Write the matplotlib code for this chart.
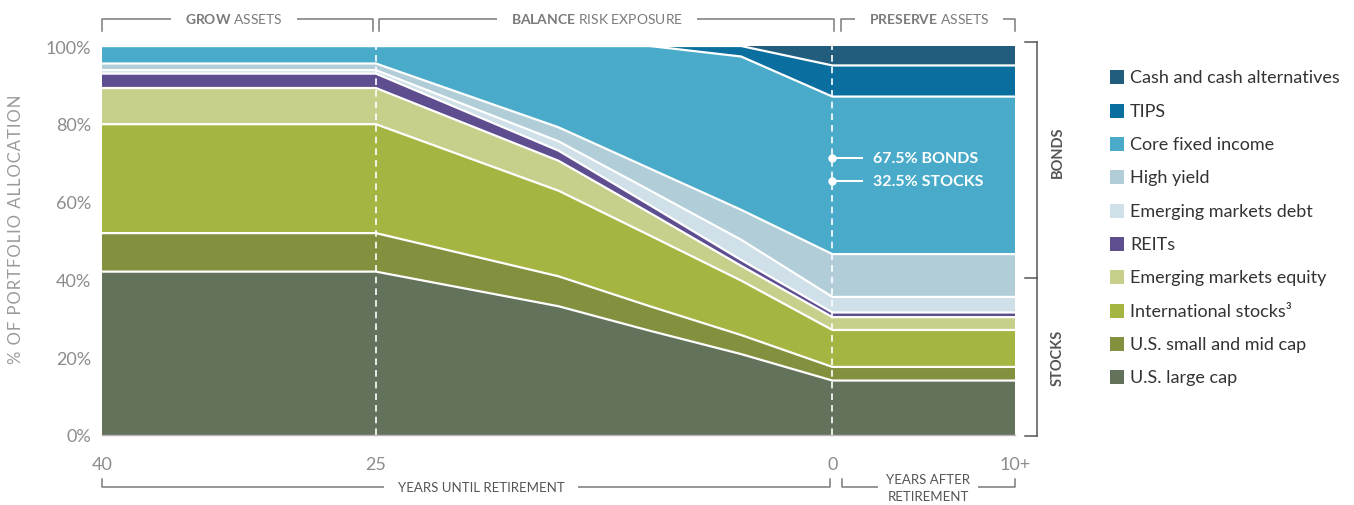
import matplotlib
matplotlib.use('Agg')
import matplotlib.pyplot as plt
from matplotlib.lines import Line2D
from matplotlib.patches import Rectangle
import numpy as np

# ---------------- data ----------------
years = [40, 25, 15, 10, 5, 0, -10]
us_large_cap = [42.0, 42.0, 33.1, 26.8, 20.8, 14.0, 14.0]
us_small_mid = [9.9, 9.9, 7.7, 6.3, 4.9, 3.5, 3.5]
intl_stocks = [28.0, 28.0, 22.0, 18.2, 14.0, 9.5, 9.5]
em_equity = [9.3, 9.3, 7.7, 5.8, 3.8, 3.3, 3.3]
reits = [3.7, 3.7, 2.6, 2.0, 1.5, 1.2, 1.2]
em_debt = [0.9, 0.9, 2.4, 3.8, 5.2, 4.0, 4.0]
high_yield = [1.7, 1.7, 3.6, 5.6, 7.7, 11.0, 11.0]
core_fixed = [4.5, 4.5, 20.9, 31.5, 39.4, 40.5, 40.5]
tips = [0.0, 0.0, 0.0, 0.0, 2.7, 8.0, 8.0]
cash = [0.0, 0.0, 0.0, 0.0, 0.0, 5.0, 5.0]

layers = [us_large_cap, us_small_mid, intl_stocks, em_equity, reits,
          em_debt, high_yield, core_fixed, tips, cash]
names = ["U.S. large cap", "U.S. small and mid cap", "International stocks\u00b3",
         "Emerging markets equity", "REITs", "Emerging markets debt",
         "High yield", "Core fixed income", "TIPS", "Cash and cash alternatives"]
colors = ["#63725a", "#83903e", "#a6b541", "#c8cf8a", "#5e4d8f",
          "#cfe0e8", "#b0cdd8", "#49abc9", "#0a6e9e", "#225d7d"]

xtick_pos = [40, 25, 0, -10]
xtick_labels = ["40", "25", "0", "10+"]
ytick_pos = [0, 20, 40, 60, 80, 100]
ytick_labels = ["0%", "20%", "40%", "60%", "80%", "100%"]

bonds_label = "67.5% BONDS"
stocks_label = "32.5% STOCKS"
ylabel_text = "% OF PORTFOLIO ALLOCATION"

# ---------------- style ----------------
FONT = "Lato"
plt.rcParams['font.family'] = [FONT, 'DejaVu Sans']
plt.rcParams['mathtext.fontset'] = 'custom'
plt.rcParams['mathtext.rm'] = FONT
plt.rcParams['mathtext.bf'] = FONT + ':bold'

W, H = 1354, 506
fig = plt.figure(figsize=(W / 100, H / 100), dpi=100)


def fx(px):
    return px / W


def fy(py):
    return 1 - py / H


ax = fig.add_axes([fx(102), fy(436), (1015 - 102) / W, (436 - 47) / H])
ax.stackplot(years, *layers, colors=colors, linewidth=0)
cum = np.cumsum(np.array(layers), axis=0)
for c in cum[:-1]:
    ax.plot(years, c, color='white', lw=1.6, solid_joinstyle='miter', zorder=3)

for xv in (25, 0):
    ax.axvline(xv, color='white', lw=1.2, ls=(0, (4, 3)), zorder=4)

ax.set_xlim(40, -10)
ax.set_ylim(0, 100)
for s in ['top', 'right', 'left']:
    ax.spines[s].set_visible(False)
ax.spines['bottom'].set_color('#b5b5b5')
ax.spines['bottom'].set_linewidth(1.0)

ax.set_xticks(xtick_pos)
ax.set_xticklabels(xtick_labels)
ax.set_yticks(ytick_pos)
ax.set_yticklabels(ytick_labels)
ax.tick_params(axis='both', length=0, colors='#8c8c8c', labelsize=13)
ax.tick_params(axis='y', pad=8)
ax.tick_params(axis='x', pad=15)

# annotation
for yv, lab in ((71.2, bonds_label), (65.2, stocks_label)):
    ax.plot([0, -1.6], [yv, yv], color='white', lw=1.5, zorder=5)
    ax.plot([0], [yv], 'o', color='white', ms=5, zorder=5)
    ax.text(-2.25, yv, lab, color='white', fontsize=11.5, fontweight='bold',
            va='center', ha='left', zorder=6)

# y label (letter-spaced)
spaced = "\u200a".join(ylabel_text)
fig.text(fx(16), fy(229), spaced, rotation=90,
         ha='center', va='center', color='#9a9a9a', fontsize=12,
         family=[FONT, 'DejaVu Sans'])

# brackets
BR = '#7a7a7a'


def bracket(x0, x1, y, t, color=BR):
    fig.add_artist(Line2D([fx(x0), fx(x0), fx(x1), fx(x1)],
                          [fy(y + t), fy(y), fy(y), fy(y + t)],
                          color=color, lw=1.1, transform=fig.transFigure,
                          zorder=1))


bracket(102, 373, 20, 12)
bracket(379, 834, 20, 12)
bracket(841, 1015, 20, 12)
box = dict(facecolor='white', edgecolor='none', pad=10)
fig.text(fx(234), fy(19), r"$\mathbf{GROW}$ ASSETS", ha='center', va='center',
         color='#7a7a7a', fontsize=10, bbox=box, zorder=5)
fig.text(fx(597), fy(19), r"$\mathbf{BALANCE}$ RISK EXPOSURE", ha='center',
         va='center', color='#7a7a7a', fontsize=10, bbox=box, zorder=5)
fig.text(fx(929), fy(19), r"$\mathbf{PRESERVE}$ ASSETS", ha='center',
         va='center', color='#7a7a7a', fontsize=10, bbox=box, zorder=5)

bracket(102, 830, 488, -8)
bracket(842, 1015, 488, -8)
fig.text(fx(481), fy(488), "YEARS UNTIL RETIREMENT", ha='center', va='center',
         color='#555555', fontsize=9.5, bbox=box, zorder=5)
fig.text(fx(928), fy(489), "YEARS AFTER\nRETIREMENT", ha='center', va='center',
         color='#555555', fontsize=9.5, linespacing=1.5,
         bbox=dict(facecolor='white', edgecolor='none', pad=6), zorder=5)

# right bracket (bonds / stocks)
RB = '#555555'
fig.add_artist(Line2D([fx(1037), fx(1037)], [fy(43), fy(437)], color=RB,
                      lw=1.1, transform=fig.transFigure))
for yy in (43, 279, 437):
    fig.add_artist(Line2D([fx(1025), fx(1037)], [fy(yy), fy(yy)], color=RB,
                          lw=1.1, transform=fig.transFigure))
fig.text(fx(1058), fy(152), "BONDS", rotation=90, ha='center', va='center',
         color='#555555', fontsize=10.5, fontweight='bold')
fig.text(fx(1058), fy(358), "STOCKS", rotation=90, ha='center', va='center',
         color='#555555', fontsize=10.5, fontweight='bold')

# legend (top to bottom: reversed stack order)
row_y = 78.3
for name, col in zip(names[::-1], colors[::-1]):
    fig.add_artist(Rectangle((fx(1110), fy(row_y + 7)), 14 / W, 14 / H,
                             facecolor=col, edgecolor='none',
                             transform=fig.transFigure))
    fig.text(fx(1130), fy(row_y), name, ha='left', va='center',
             color='#333333', fontsize=13)
    row_y += 33.33

fig.savefig("out.png", dpi=100)
